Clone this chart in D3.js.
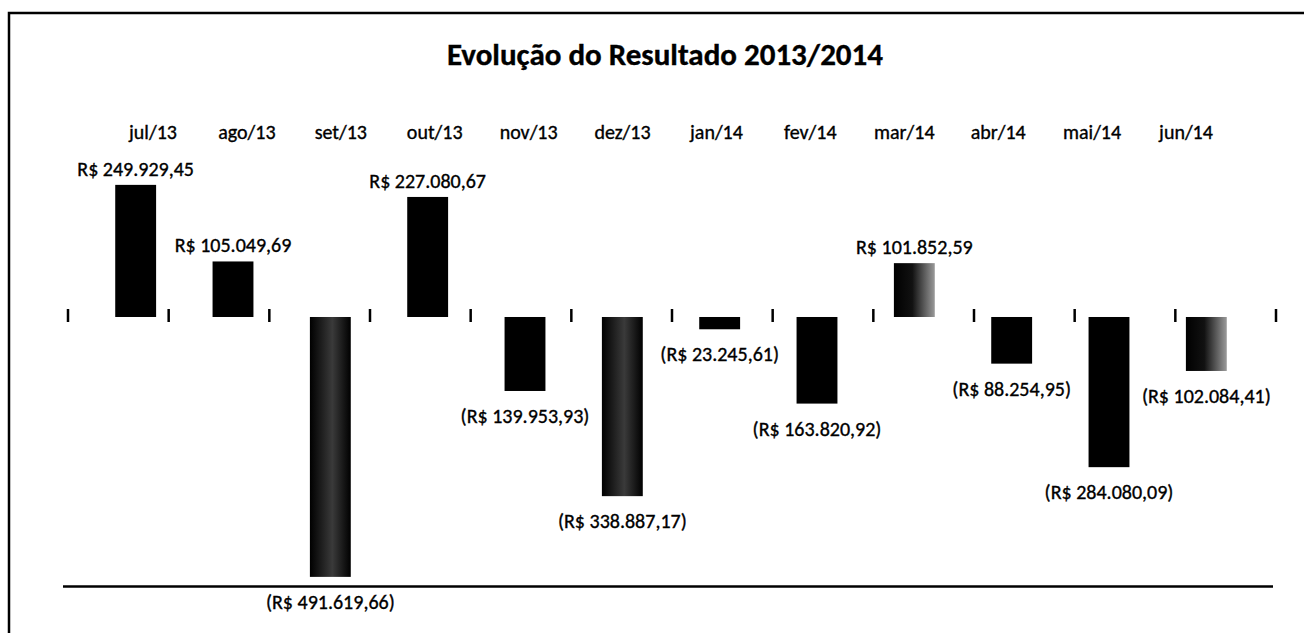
<!DOCTYPE html>
<html>
<head>
  <meta charset="utf-8">
  <title>Evolução do Resultado 2013/2014</title>
  <script src="https://cdnjs.cloudflare.com/ajax/libs/d3/7.8.5/d3.min.js"></script>
  <style>
    body {
      margin: 0;
      background: #fff;
    }
    svg text {
      font-family: Carlito, Calibri, Lato, sans-serif;
      fill: #000;
      stroke: #000;
      stroke-width: 0.35px;
    }
  </style>
</head>
<body>
  <div id="chart"></div>

  <script>
    // Chart data
    const months = ["jul/13", "ago/13", "set/13", "out/13", "nov/13", "dez/13",
                    "jan/14", "fev/14", "mar/14", "abr/14", "mai/14", "jun/14"];
    const results = [249929.45, 105049.69, -491619.66, 227080.67, -139953.93, -338887.17,
                     -23245.61, -163820.92, 101852.59, -88254.95, -284080.09, -102084.41];
    const title = "Evolução do Resultado 2013/2014";

    const width = 1304;
    const height = 633;

    const svg = d3.select("#chart")
      .append("svg")
      .attr("width", width)
      .attr("height", height);

    // Gradients (the scanned bars show some lighter shading)
    const defs = svg.append("defs");
    const fade = defs.append("linearGradient").attr("id", "fade");
    fade.append("stop").attr("offset", "0%").attr("stop-color", "#000");
    fade.append("stop").attr("offset", "45%").attr("stop-color", "#111");
    fade.append("stop").attr("offset", "100%").attr("stop-color", "#9a9a9a");
    const sheen = defs.append("linearGradient").attr("id", "sheen");
    sheen.append("stop").attr("offset", "0%").attr("stop-color", "#000");
    sheen.append("stop").attr("offset", "55%").attr("stop-color", "#3a3a3a");
    sheen.append("stop").attr("offset", "100%").attr("stop-color", "#000");
    const barFill = { "set/13": "url(#sheen)", "dez/13": "url(#sheen)",
                      "mar/14": "url(#fade)", "jun/14": "url(#fade)" };

    // Frame
    svg.append("rect")
      .attr("x", 9)
      .attr("y", 13)
      .attr("width", 1400)
      .attr("height", 700)
      .attr("fill", "none")
      .attr("stroke", "#000")
      .attr("stroke-width", 2.5);

    // Scales
    const y = d3.scaleLinear()
      .domain([-510000, 300000])
      .range([586.6, 158.4]);

    const xBar = d3.scaleBand()
      .domain(months)
      .range([87, 1255])
      .paddingInner(0.58)
      .paddingOuter(0.29);

    const xTick = d3.scaleBand()
      .domain(months)
      .range([68, 1276]);

    const xLabel = d3.scalePoint()
      .domain(months)
      .range([153, 1186]);

    const fmt = d3.formatLocale({
      decimal: ",",
      thousands: ".",
      grouping: [3],
      currency: ["R$ ", ""]
    }).format(",.2f");
    const money = v => v < 0 ? "(R$ " + fmt(-v) + ")" : "R$ " + fmt(v);

    // Title
    svg.append("text")
      .attr("x", 665)
      .attr("y", 65)
      .attr("text-anchor", "middle")
      .attr("font-size", 31)
      .attr("font-weight", "bold")
      .text(title);

    // Month labels along the top
    svg.append("g")
      .selectAll("text")
      .data(months)
      .join("text")
      .attr("x", d => xLabel(d))
      .attr("y", 139)
      .attr("text-anchor", "middle")
      .attr("font-size", 20)
      .text(d => d);

    // Tick marks at the zero line
    const tickPos = months.map(m => xTick(m)).concat([xTick.range()[1]]);
    svg.append("g")
      .selectAll("line")
      .data(tickPos)
      .join("line")
      .attr("x1", d => d)
      .attr("x2", d => d)
      .attr("y1", y(0) - 8)
      .attr("y2", y(0) + 5)
      .attr("stroke", "#000")
      .attr("stroke-width", 2.5);

    // Bottom axis line
    svg.append("line")
      .attr("x1", 63)
      .attr("x2", 1273)
      .attr("y1", y(-510000))
      .attr("y2", y(-510000))
      .attr("stroke", "#000")
      .attr("stroke-width", 2.5);

    // Bars
    svg.append("g")
      .selectAll("rect")
      .data(results)
      .join("rect")
      .attr("x", (d, i) => xBar(months[i]))
      .attr("width", xBar.bandwidth())
      .attr("y", d => y(Math.max(0, d)))
      .attr("height", d => Math.abs(y(d) - y(0)))
      .attr("fill", (d, i) => barFill[months[i]] || "#000");

    // Data labels
    svg.append("g")
      .selectAll("text")
      .data(results)
      .join("text")
      .attr("x", (d, i) => xBar(months[i]) + xBar.bandwidth() / 2)
      .attr("y", d => d >= 0 ? y(d) - 9 : y(d) + 32)
      .attr("text-anchor", "middle")
      .attr("font-size", 20)
      .text(d => money(d));
  </script>
</body>
</html>
